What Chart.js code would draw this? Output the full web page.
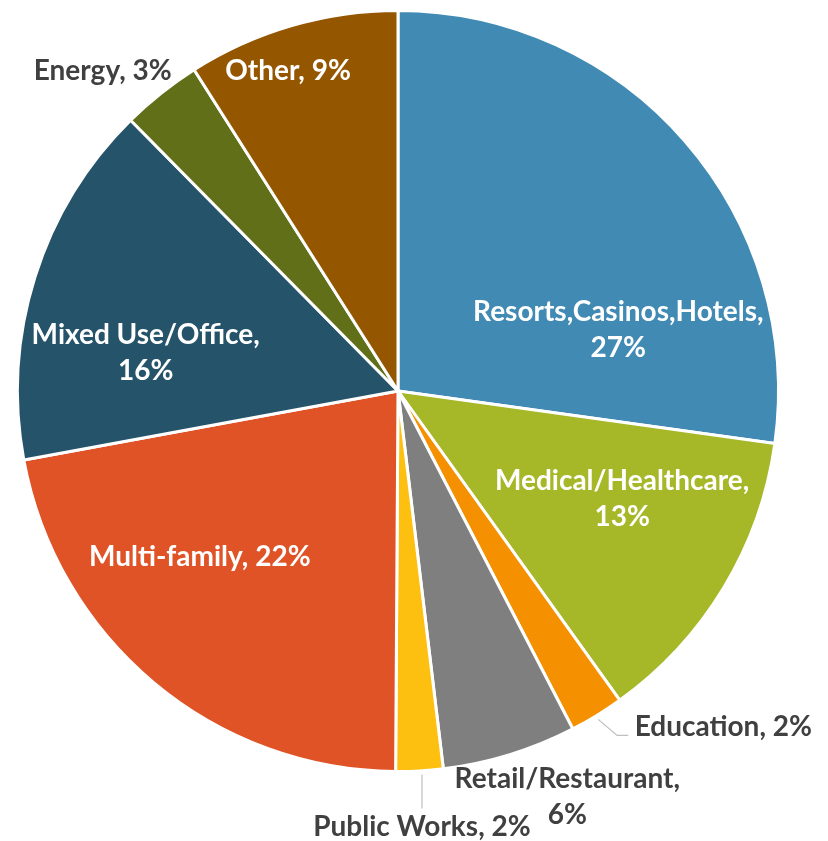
<!DOCTYPE html>
<html>
<head>
<meta charset="utf-8">
<script src="https://cdn.jsdelivr.net/npm/chart.js@4.4.1/dist/chart.umd.min.js"></script>
<style>
  html, body { margin: 0; padding: 0; background: #fff; }
  #wrap { width: 828px; height: 841px; }
</style>
</head>
<body>
<div id="wrap"><canvas id="pieChart" width="828" height="841"></canvas></div>
<script>
const categories = [
  "Resorts,Casinos,Hotels", "Medical/Healthcare", "Education", "Retail/Restaurant",
  "Public Works", "Multi-family", "Mixed Use/Office", "Energy", "Other"
];
const shares = [27.2, 12.9, 2.3, 5.7, 2.0, 22.0, 15.5, 3.4, 9.0];
const percentLabels = ["27%", "13%", "2%", "6%", "2%", "22%", "16%", "3%", "9%"];
const sliceColors = [
  "#418AB3", "#A6B727", "#F59000", "#7F7F7F",
  "#FEC010", "#DF5327", "#255369", "#626F19", "#955600"
];

// label layout, offsets relative to pie centre in units of the radius
const labelLayout = [
  { lines: ["Resorts,Casinos,Hotels,", "27%"], dx: 0.579, dy: -0.160, color: "#fff" },
  { lines: ["Medical/Healthcare,", "13%"], dx: 0.589, dy: 0.284, color: "#fff" },
  { lines: ["Education, 2%"], dx: 0.855, dy: 0.882, color: "#404040", leader: [[0.526, 0.863], [0.576, 0.905], [0.605, 0.905]] },
  { lines: ["Retail/Restaurant,", "6%"], dx: 0.445, dy: 1.066, color: "#404040" },
  { lines: ["Public Works, 2%"], dx: 0.063, dy: 1.145, color: "#404040", leader: [[0.063, 1.008], [0.063, 1.097]] },
  { lines: ["Multi-family, 22%"], dx: -0.521, dy: 0.437, color: "#fff" },
  { lines: ["Mixed Use/Office,", "16%"], dx: -0.663, dy: -0.100, color: "#fff" },
  { lines: ["Energy, 3%"], dx: -0.776, dy: -0.842, color: "#404040" },
  { lines: ["Other, 9%"], dx: -0.289, dy: -0.840, color: "#fff" }
];

const labelPlugin = {
  id: "sliceLabels",
  afterDatasetsDraw(chart) {
    const ctx = chart.ctx;
    const arc = chart.getDatasetMeta(0).data[0];
    const cx = arc.x, cy = arc.y, r = arc.outerRadius;
    ctx.save();
    labelLayout.forEach(l => {
      if (l.leader) {
        ctx.beginPath();
        ctx.strokeStyle = "#BFBFBF";
        ctx.lineWidth = 1.2;
        l.leader.forEach((p, i) => {
          const x = cx + p[0] * r, y = cy + p[1] * r;
          if (i === 0) ctx.moveTo(x, y); else ctx.lineTo(x, y);
        });
        ctx.stroke();
      }
      ctx.fillStyle = l.color;
      ctx.font = "bold 28px Lato, 'Open Sans', sans-serif";
      ctx.textAlign = "center";
      ctx.textBaseline = "middle";
      const lh = 36;
      const x = cx + l.dx * r;
      const y0 = cy + l.dy * r - (l.lines.length - 1) * lh / 2;
      l.lines.forEach((t, i) => ctx.fillText(t, x, y0 + i * lh));
    });
    ctx.restore();
  }
};

new Chart(document.getElementById("pieChart"), {
  type: "pie",
  data: {
    labels: categories,
    datasets: [{
      data: shares,
      backgroundColor: sliceColors,
      borderColor: "#ffffff",
      borderWidth: 3
    }]
  },
  options: {
    responsive: false,
    animation: false,
    layout: { padding: { left: 16, right: 48, top: 9, bottom: 68 } },
    plugins: {
      legend: { display: false },
      tooltip: { enabled: false }
    }
  },
  plugins: [labelPlugin]
});
</script>
</body>
</html>
